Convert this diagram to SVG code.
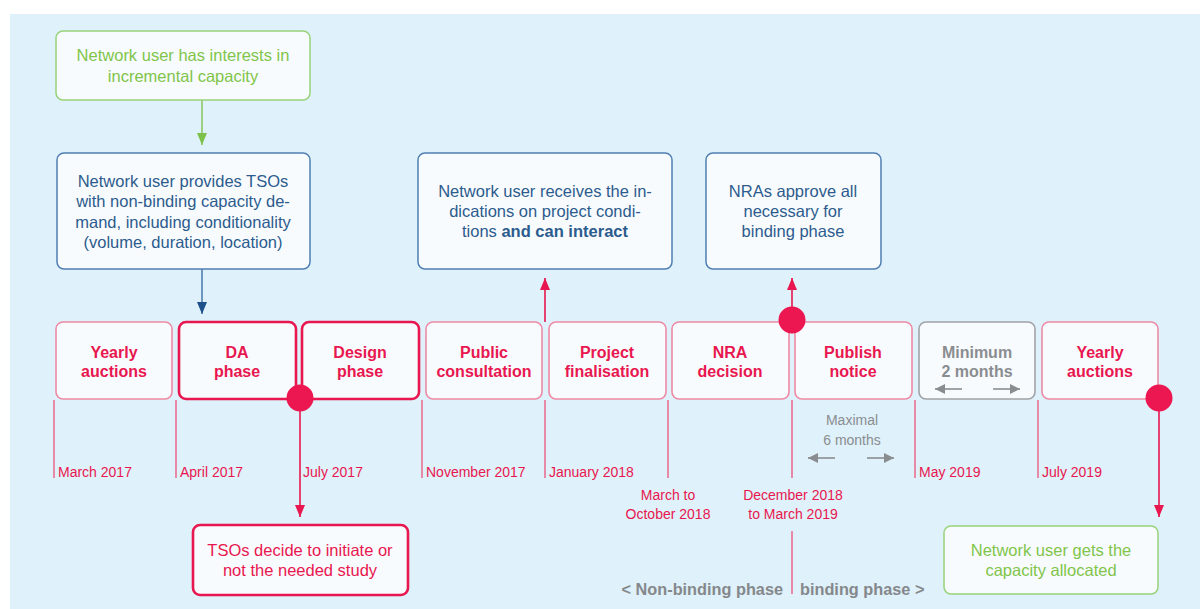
<svg xmlns="http://www.w3.org/2000/svg" width="1200" height="609" viewBox="0 0 1200 609">
<defs>
<style>
text{font-family:"Liberation Sans",Arial,sans-serif;text-anchor:middle}
.box{fill:#f8fbfe;rx:7}
.green{stroke:#98d27a;stroke-width:1.5}
.blue{stroke:#4f7fb2;stroke-width:1.5}
.thin{stroke:#ee8aa4;stroke-width:1.6}
.thick{stroke:#e8174f;stroke-width:2.6}
.gray{stroke:#a0a3a6;stroke-width:1.6}
.tg{fill:#80c54a;font-size:16.5px}
.tb{fill:#2c5b8d;font-size:16.5px}
.tr{fill:#e8174f;font-size:16.5px}
.tl{fill:#e8174f;font-size:16px;font-weight:bold}
.tgb{fill:#8a8d90;font-size:16px;font-weight:bold}
.date{fill:#e8174f;font-size:14px;text-anchor:start}
.dc{fill:#e8174f;font-size:14px}
.gt{fill:#8a8d90;font-size:14px}
.phase{fill:#85888b;font-size:16.3px;font-weight:bold}
.tick{stroke:#e9678b;stroke-width:1.5}
.rl{stroke:#e8174f;stroke-width:1.6;fill:none}
.dot{fill:#ec1750}
.ga{stroke:#8a8d90;stroke-width:1.6;fill:none}
</style>
<marker id="ahG" viewBox="0 0 12 10" refX="12" refY="5" markerWidth="12" markerHeight="11" markerUnits="userSpaceOnUse" orient="auto"><path d="M0,0 L12,5 L0,10 z" fill="#7cc24a"/></marker>
<marker id="ahB" viewBox="0 0 12 10" refX="12" refY="5" markerWidth="12" markerHeight="11" markerUnits="userSpaceOnUse" orient="auto"><path d="M0,0 L12,5 L0,10 z" fill="#1d4f8a"/></marker>
<marker id="ahR" viewBox="0 0 12 10" refX="12" refY="5" markerWidth="12" markerHeight="11" markerUnits="userSpaceOnUse" orient="auto"><path d="M0,0 L12,5 L0,10 z" fill="#e8174f"/></marker>
<marker id="ahK" viewBox="0 0 10 10" refX="10" refY="5" markerWidth="10" markerHeight="10" markerUnits="userSpaceOnUse" orient="auto"><path d="M0,0 L10,5 L0,10 z" fill="#8a8d90"/></marker>
</defs>

<rect x="0" y="0" width="1200" height="609" fill="#ffffff"/>
<rect x="10" y="14" width="1190" height="595" fill="#dff1fa"/>

<g id="connectors">
<line x1="202" y1="100" x2="202" y2="145" stroke="#8cc866" stroke-width="1.6" marker-end="url(#ahG)"/>
<line x1="202" y1="269" x2="202" y2="314" stroke="#4f7fb2" stroke-width="1.6" marker-end="url(#ahB)"/>
<line class="rl" x1="545" y1="322" x2="545" y2="278" marker-end="url(#ahR)"/>
<line class="rl" x1="792" y1="310" x2="792" y2="278" marker-end="url(#ahR)"/>
<line class="rl" x1="300" y1="398" x2="300" y2="517" marker-end="url(#ahR)"/>
<line class="rl" x1="1159" y1="398" x2="1159" y2="517" marker-end="url(#ahR)"/>
</g>

<g id="ticks">
<line class="tick" x1="54" y1="400" x2="54" y2="478"/>
<line class="tick" x1="176" y1="400" x2="176" y2="478"/>
<line class="tick" x1="422" y1="400" x2="422" y2="478"/>
<line class="tick" x1="545" y1="400" x2="545" y2="478"/>
<line class="tick" x1="668" y1="400" x2="668" y2="478"/>
<line class="tick" x1="792" y1="400" x2="792" y2="478"/>
<line class="tick" x1="915" y1="400" x2="915" y2="478"/>
<line class="tick" x1="1038" y1="400" x2="1038" y2="478"/>
<line class="tick" x1="792" y1="531" x2="792" y2="594"/>
</g>

<g id="n-interest">
<rect class="box green" x="56" y="31" width="254" height="69"/>
<text class="tg" x="183" y="61">Network user has interests in</text>
<text class="tg" x="183" y="82">incremental capacity</text>
</g>

<g id="n-provides">
<rect class="box blue" x="57" y="153" width="253" height="116"/>
<text class="tb" x="183" y="187">Network user provides TSOs</text>
<text class="tb" x="183" y="207">with non-binding capacity de-</text>
<text class="tb" x="183" y="228">mand, including conditionality</text>
<text class="tb" x="183" y="248">(volume, duration, location)</text>
</g>

<g id="n-receives">
<rect class="box blue" x="418" y="153" width="254" height="116"/>
<text class="tb" x="545" y="197">Network user receives the in-</text>
<text class="tb" x="545" y="217">dications on project condi-</text>
<text class="tb" x="545" y="237">tions <tspan font-weight="bold">and can interact</tspan></text>
</g>

<g id="n-approve">
<rect class="box blue" x="706" y="153" width="175" height="116"/>
<text class="tb" x="793" y="197">NRAs approve all</text>
<text class="tb" x="793" y="217">necessary for</text>
<text class="tb" x="793" y="237">binding phase</text>
</g>

<g id="t-yearly1">
<rect class="box thin" x="56" y="322" width="116" height="77"/>
<text class="tl" x="114" y="358">Yearly</text>
<text class="tl" x="114" y="377">auctions</text>
</g>
<g id="t-da">
<rect class="box thick" x="179" y="322" width="117" height="77"/>
<text class="tl" x="237" y="358">DA</text>
<text class="tl" x="237" y="377">phase</text>
</g>
<g id="t-design">
<rect class="box thick" x="302" y="322" width="117" height="77"/>
<text class="tl" x="360" y="358">Design</text>
<text class="tl" x="360" y="377">phase</text>
</g>
<g id="t-public">
<rect class="box thin" x="426" y="322" width="116" height="77"/>
<text class="tl" x="484" y="358">Public</text>
<text class="tl" x="484" y="377">consultation</text>
</g>
<g id="t-project">
<rect class="box thin" x="549" y="322" width="117" height="77"/>
<text class="tl" x="607" y="358">Project</text>
<text class="tl" x="607" y="377">finalisation</text>
</g>
<g id="t-nra">
<rect class="box thin" x="672" y="322" width="117" height="77"/>
<text class="tl" x="730" y="358">NRA</text>
<text class="tl" x="730" y="377">decision</text>
</g>
<g id="t-publish">
<rect class="box thin" x="795" y="322" width="117" height="77"/>
<text class="tl" x="853" y="358">Publish</text>
<text class="tl" x="853" y="377">notice</text>
</g>
<g id="t-minimum">
<rect class="box gray" x="919" y="322" width="116" height="77"/>
<text class="tgb" x="977" y="358">Minimum</text>
<text class="tgb" x="977" y="377">2 months</text>
<line class="ga" x1="962" y1="389" x2="935" y2="389" marker-end="url(#ahK)"/>
<line class="ga" x1="993" y1="389" x2="1020" y2="389" marker-end="url(#ahK)"/>
</g>
<g id="t-yearly2">
<rect class="box thin" x="1042" y="322" width="116" height="77"/>
<text class="tl" x="1100" y="358">Yearly</text>
<text class="tl" x="1100" y="377">auctions</text>
</g>

<g id="dots">
<circle class="dot" cx="300" cy="398" r="13.5"/>
<circle class="dot" cx="792" cy="320" r="13.5"/>
<circle class="dot" cx="1159" cy="398" r="13.5"/>
</g>

<g id="dates">
<text class="date" x="58" y="477">March 2017</text>
<text class="date" x="180" y="477">April 2017</text>
<text class="date" x="303" y="477">July 2017</text>
<text class="date" x="426" y="477">November 2017</text>
<text class="date" x="549" y="477">January 2018</text>
<text class="dc" x="668" y="500">March to</text>
<text class="dc" x="668" y="519">October 2018</text>
<text class="dc" x="793" y="500">December 2018</text>
<text class="dc" x="793" y="519">to March 2019</text>
<text class="date" x="919" y="477">May 2019</text>
<text class="date" x="1042" y="477">July 2019</text>
</g>

<g id="maximal">
<text class="gt" x="852" y="425">Maximal</text>
<text class="gt" x="852" y="445">6 months</text>
<line class="ga" x1="835" y1="458" x2="808" y2="458" marker-end="url(#ahK)"/>
<line class="ga" x1="867" y1="458" x2="894" y2="458" marker-end="url(#ahK)"/>
</g>

<g id="n-tsos">
<rect class="box thick" x="193" y="525" width="215" height="70"/>
<text class="tr" x="300" y="556">TSOs decide to initiate or</text>
<text class="tr" x="300" y="576">not the needed study</text>
</g>

<g id="n-allocated">
<rect class="box green" x="944" y="526" width="214" height="68"/>
<text class="tg" x="1051" y="556">Network user gets the</text>
<text class="tg" x="1051" y="576">capacity allocated</text>
</g>

<g id="phases">
<text class="phase" x="783" y="595" style="text-anchor:end">&lt; Non-binding phase</text>
<text class="phase" x="800" y="595" style="text-anchor:start">binding phase &gt;</text>
</g>
</svg>
